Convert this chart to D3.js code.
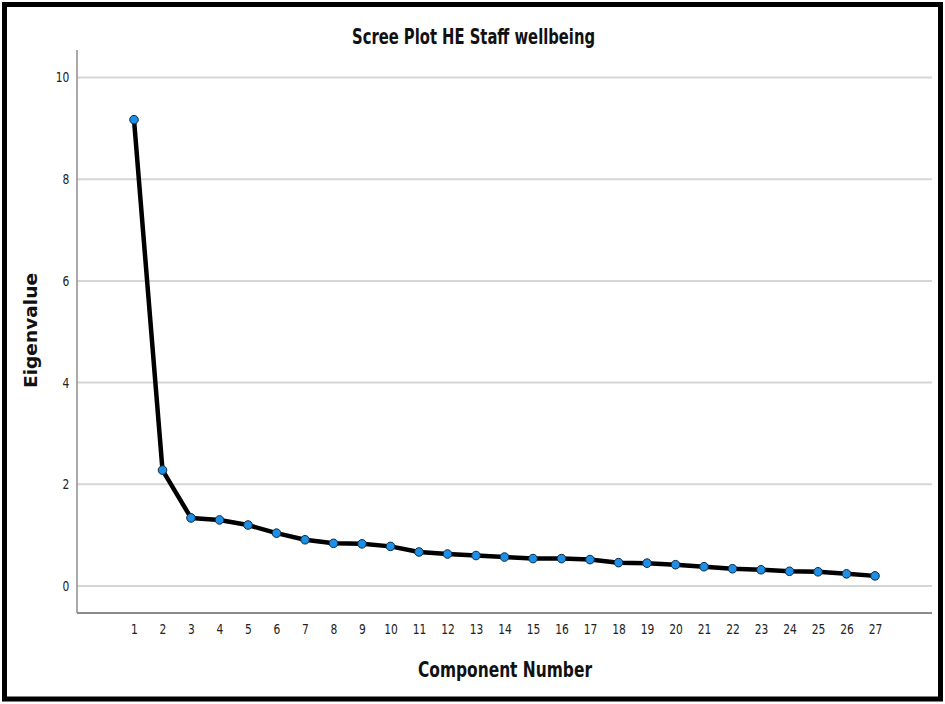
<!DOCTYPE html>
<html><head><meta charset="utf-8">
<script src="https://cdn.jsdelivr.net/npm/d3@7"></script>
<style>
body{margin:0;background:#fff;}
svg{display:block;}
.narrow{font-family:"DejaVu Sans Condensed","DejaVu Sans",sans-serif;font-stretch:condensed;}
</style></head><body>
<svg id="chart" width="945" height="704"></svg>
<script>
const components = d3.range(1, 28);
const eigenvalues = [9.17, 2.28, 1.34, 1.30, 1.20, 1.04, 0.91, 0.84, 0.83, 0.78, 0.67, 0.63, 0.60, 0.57, 0.54, 0.54, 0.52, 0.46, 0.45, 0.42, 0.38, 0.34, 0.32, 0.29, 0.28, 0.24, 0.20];
const yTicks = [0, 2, 4, 6, 8, 10];
const title = "Scree Plot HE Staff wellbeing";
const xLabel = "Component Number";
const yLabel = "Eigenvalue";

const svg = d3.select("#chart");
const mLeft = 77, mRight = 932, mTop = 50, mBottom = 613;
const x = d3.scaleLinear().domain([-1, 29]).range([mLeft, mRight]);
const y = d3.scaleLinear().domain([-0.53, 10.54]).range([mBottom, mTop]);

// frame
svg.append("rect").attr("x", 4.5).attr("y", 4.5).attr("width", 936).attr("height", 694.5)
  .attr("fill", "#fff").attr("stroke", "#000").attr("stroke-width", 5);

// gridlines
svg.append("g").selectAll("line").data(yTicks).join("line")
  .attr("x1", mLeft).attr("x2", mRight)
  .attr("y1", d => y(d)).attr("y2", d => y(d))
  .attr("stroke", "#d6d6d6").attr("stroke-width", 2);

// y axis
const yAxis = svg.append("g").attr("transform", `translate(${mLeft},0)`)
  .call(d3.axisLeft(y).tickValues(yTicks).tickSize(0).tickPadding(9));
yAxis.select(".domain").remove();
yAxis.selectAll("text").attr("class", "narrow").attr("font-size", 14).attr("fill", "#222")
  .attr("transform", "scale(0.85,1)");
svg.append("line").attr("x1", mLeft).attr("x2", mLeft).attr("y1", mTop).attr("y2", mBottom)
  .attr("stroke", "#8c8c8c").attr("stroke-width", 1.5);

// x axis
const xAxis = svg.append("g").attr("transform", `translate(0,${mBottom})`)
  .call(d3.axisBottom(x).tickValues(components).tickSize(0).tickPadding(11).tickFormat(d3.format("d")));
xAxis.select(".domain").remove();
xAxis.selectAll("text").attr("class", "narrow").attr("font-size", 14).attr("fill", "#222")
  .attr("transform", "scale(0.85,1)");
svg.append("line").attr("x1", mLeft).attr("x2", mRight).attr("y1", mBottom).attr("y2", mBottom)
  .attr("stroke", "#8c8c8c").attr("stroke-width", 2);

// line
const data = components.map((c, i) => ({c, v: eigenvalues[i]}));
svg.append("path").datum(data)
  .attr("d", d3.line().x(d => x(d.c)).y(d => y(d.v)))
  .attr("fill", "none").attr("stroke", "#000").attr("stroke-width", 4.5)
  .attr("stroke-linejoin", "round");

svg.append("g").selectAll("circle").data(data).join("circle")
  .attr("cx", d => x(d.c)).attr("cy", d => y(d.v)).attr("r", 4.3)
  .attr("fill", "#1e8fe6").attr("stroke", "#0d2a44").attr("stroke-width", 1);

// title
svg.append("text").attr("class", "narrow").attr("x", 352).attr("y", 44)
  .attr("font-size", 21).attr("font-weight", "bold")
  .attr("textLength", 243).attr("lengthAdjust", "spacingAndGlyphs")
  .attr("fill", "#111").text(title);

svg.append("text").attr("class", "narrow").attr("x", 418).attr("y", 677)
  .attr("font-size", 21).attr("font-weight", "bold")
  .attr("textLength", 174).attr("lengthAdjust", "spacingAndGlyphs")
  .attr("fill", "#111").text(xLabel);

svg.append("text").attr("transform", "translate(37,388) rotate(-90)")
  .attr("font-family", "DejaVu Sans, sans-serif")
  .attr("textLength", 115).attr("lengthAdjust", "spacingAndGlyphs")
  .attr("font-size", 17).attr("font-weight", "bold").attr("fill", "#111").text(yLabel);
</script>
</body></html>
